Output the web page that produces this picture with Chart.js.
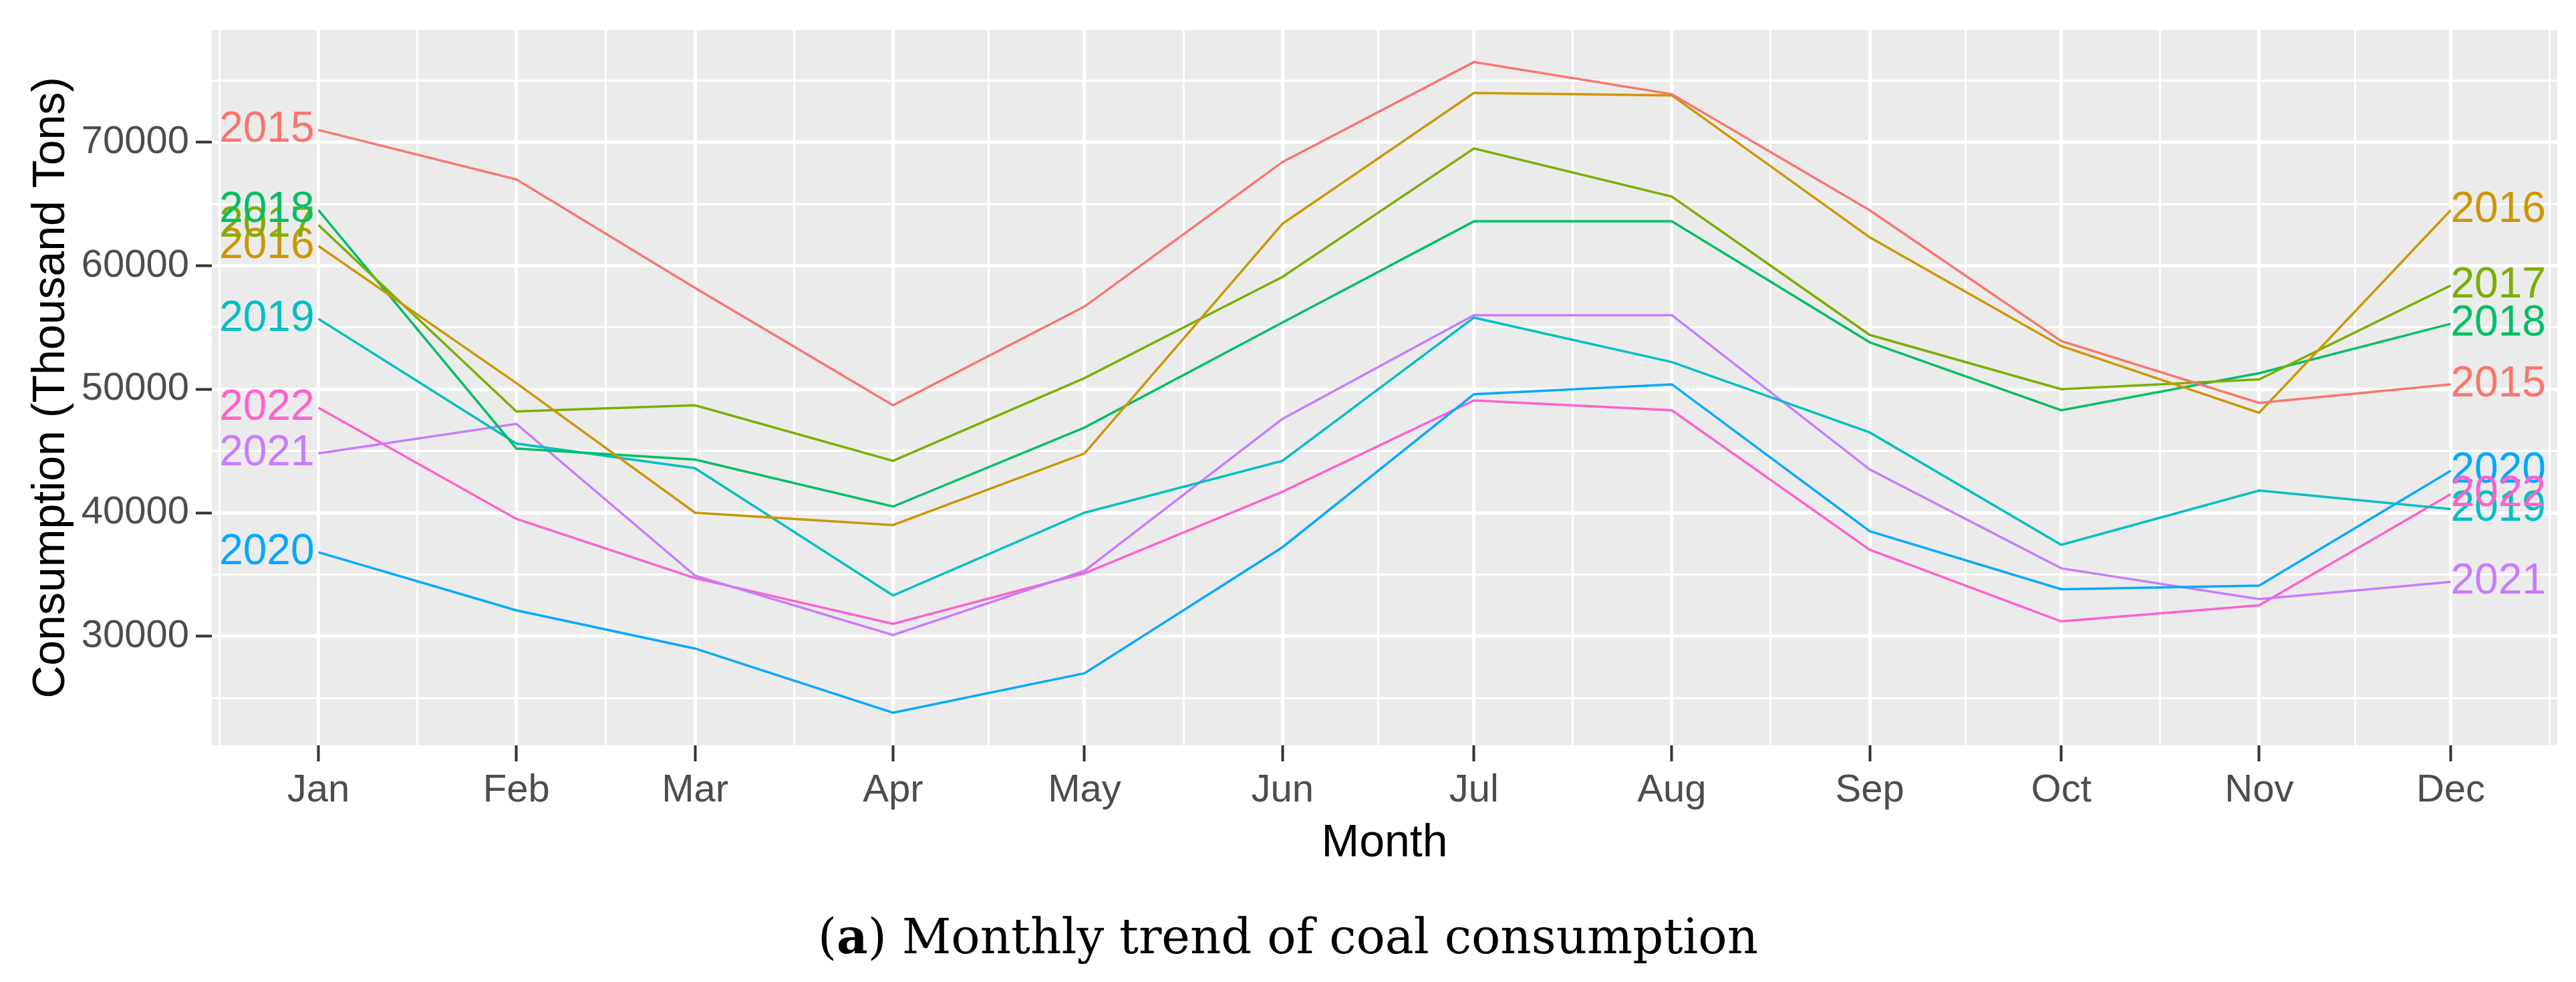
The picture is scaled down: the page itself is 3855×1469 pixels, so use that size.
<!DOCTYPE html>
<html>
<head>
<meta charset="utf-8">
<script src="https://cdn.jsdelivr.net/npm/chart.js@4.4.1/dist/chart.umd.min.js"></script>
<style>
    html, body { margin: 0; padding: 0; background: #fff; }
    #wrap { position: relative; width: 3855px; height: 1469px; overflow: hidden; }
    #chart { position: absolute; left: 0; top: 0; }
    #caption {
        position: absolute; left: 0; top: 1365px; width: 3855px;
        text-align: center; font-family: 'DejaVu Serif', serif;
        font-size: 72px; line-height: 1; color: #000;
    }
</style>
</head>
<body>
<div id="wrap">
    <canvas id="chart" width="3855" height="1469"></canvas>
    <div id="caption">(<b>a</b>) Monthly trend of coal consumption</div>
</div>
<script>
// DATA
const MONTHS = ['Jan', 'Feb', 'Mar', 'Apr', 'May', 'Jun', 'Jul', 'Aug', 'Sep', 'Oct', 'Nov', 'Dec'];
const MONTH_DAY = [0, 31, 59, 90, 120, 151, 181, 212, 243, 273, 304, 334]; // day of year, 1st of month

const YEARS = ['2015', '2016', '2017', '2018', '2019', '2020', '2021', '2022'];
const COLORS = ['#F8766D', '#CD9600', '#7CAE00', '#00BE67', '#00BFC4', '#00A9FF', '#C77CFF', '#FF61CC'];

const Y2015 = [71000, 67000, 58200, 48700, 56700, 68400, 76500, 73900, 64500, 53900, 48900, 50400];
const Y2016 = [61600, 50500, 40000, 39000, 44800, 63400, 74000, 73800, 62300, 53500, 48100, 64500];
const Y2017 = [63300, 48200, 48700, 44200, 50900, 59100, 69500, 65600, 54400, 50000, 50800, 58400];
const Y2018 = [64500, 45200, 44300, 40500, 46900, 55400, 63600, 63600, 53800, 48300, 51300, 55300];
const Y2019 = [55700, 45600, 43600, 33300, 40000, 44200, 55800, 52200, 46500, 37400, 41800, 40300];
const Y2020 = [36800, 32100, 29000, 23800, 27000, 37200, 49600, 50400, 38500, 33800, 34100, 43400];
const Y2021 = [44800, 47200, 34900, 30100, 35300, 47600, 56000, 56000, 43500, 35500, 33000, 34400];
const Y2022 = [48500, 39500, 34700, 31000, 35100, 41700, 49100, 48300, 37000, 31200, 32500, 41500];
const SERIES = [Y2015, Y2016, Y2017, Y2018, Y2019, Y2020, Y2021, Y2022];

const Y_MAJOR = [30000, 40000, 50000, 60000, 70000];
const Y_MINOR = [25000, 35000, 45000, 55000, 65000, 75000];

// minor x breaks sit halfway between month starts (incl. prev Dec / next Jan)
const edgeDays = [-31, ...MONTH_DAY, 365];
const X_MINOR = [];
for (let i = 0; i < edgeDays.length - 1; i++) X_MINOR.push((edgeDays[i] + edgeDays[i + 1]) / 2);

// ggplot-like 5% expansion
const xSpan = MONTH_DAY[MONTH_DAY.length - 1] - MONTH_DAY[0];
const X_MIN = MONTH_DAY[0] - xSpan * 0.05;
const X_MAX = MONTH_DAY[MONTH_DAY.length - 1] + xSpan * 0.05;

Chart.defaults.font.family = '"Liberation Sans", Arial, sans-serif';

function buildTicks(majors, minors) {
    return [
        ...majors.map(v => ({ value: v })),
        ...minors.map(v => ({ value: v, minor: true }))
    ].sort((a, b) => a.value - b.value);
}

const gridOpts = {
    color: '#FFFFFF',
    lineWidth: c => (c.tick && c.tick.minor ? 3 : 5),
    tickColor: c => (c.tick && c.tick.minor ? 'rgba(0,0,0,0)' : '#333333'),
    tickWidth: 4,
    tickLength: 24,
    drawTicks: true
};

// panel background
const panelBg = {
    id: 'panelBg',
    beforeDraw(chart) {
        const { ctx, chartArea: a } = chart;
        ctx.save();
        ctx.fillStyle = '#EBEBEB';
        ctx.fillRect(a.left, a.top, a.right - a.left, a.bottom - a.top);
        ctx.restore();
    }
};

// year labels at both ends of each line
const endLabels = {
    id: 'endLabels',
    afterDatasetsDraw(chart) {
        const ctx = chart.ctx;
        ctx.save();
        ctx.font = '64px "Liberation Sans", Arial, sans-serif';
        ctx.textBaseline = 'middle';
        chart.data.datasets.forEach((ds, i) => {
            const pts = chart.getDatasetMeta(i).data;
            const first = pts[0];
            const last = pts[pts.length - 1];
            ctx.fillStyle = ds.borderColor;
            ctx.textAlign = 'right';
            ctx.fillText(ds.label, first.x - 6, first.y);
            ctx.textAlign = 'left';
            ctx.fillText(ds.label, last.x, last.y);
        });
        ctx.restore();
    }
};

const datasets = YEARS.map((year, i) => ({
    label: year,
    data: SERIES[i].map((v, m) => ({ x: MONTH_DAY[m], y: v })),
    borderColor: COLORS[i],
    backgroundColor: COLORS[i],
    borderWidth: 3.5,
    pointRadius: 0,
    tension: 0,
    fill: false
}));

new Chart(document.getElementById('chart').getContext('2d'), {
    type: 'line',
    data: { datasets },
    plugins: [panelBg, endLabels],
    options: {
        responsive: false,
        animation: false,
        devicePixelRatio: 1,
        parsing: true,
        layout: { padding: { left: 0, right: 28, top: 33, bottom: 149 } },
        plugins: {
            legend: { display: false },
            tooltip: { enabled: false }
        },
        scales: {
            x: {
                type: 'linear',
                min: X_MIN,
                max: X_MAX,
                afterBuildTicks: scale => { scale.ticks = buildTicks(MONTH_DAY, X_MINOR); },
                afterFit: scale => { scale.height = 205; },
                grid: gridOpts,
                border: { display: false },
                ticks: {
                    autoSkip: false,
                    maxRotation: 0,
                    padding: 9,
                    color: '#4D4D4D',
                    font: { size: 58, lineHeight: 1.2 },
                    callback: (value, index, ticks) => {
                        if (ticks[index].minor) return '';
                        const m = MONTH_DAY.indexOf(value);
                        return m >= 0 ? MONTHS[m] : '';
                    }
                },
                title: {
                    display: true,
                    text: 'Month',
                    color: '#000000',
                    font: { size: 68, lineHeight: 1.2 },
                    padding: { top: 0, bottom: 17 }
                }
            },
            y: {
                type: 'linear',
                min: 21160,
                max: 79100,
                afterBuildTicks: scale => { scale.ticks = buildTicks(Y_MAJOR, Y_MINOR); },
                afterFit: scale => { scale.width = 317; },
                grid: gridOpts,
                border: { display: false },
                ticks: {
                    autoSkip: false,
                    padding: 10,
                    color: '#4D4D4D',
                    font: { size: 58, lineHeight: 1.2 },
                    callback: (value, index, ticks) => (ticks[index].minor ? '' : String(value))
                },
                title: {
                    display: true,
                    text: 'Consumption (Thousand Tons)',
                    color: '#000000',
                    font: { size: 68, lineHeight: 1.2 },
                    padding: { top: 36, bottom: 0 }
                }
            }
        }
    }
});
</script>
</body>
</html>
